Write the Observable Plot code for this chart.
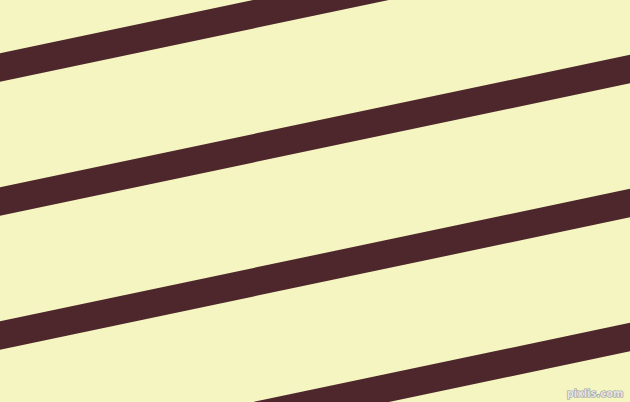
<!DOCTYPE html>
<html>
<head>
<meta charset="utf-8">
<script src="https://cdn.jsdelivr.net/npm/d3@7"></script>
<script src="https://cdn.jsdelivr.net/npm/@observablehq/plot@0.6"></script>
<style>
  html, body { margin: 0; padding: 0; background: #F5F5C1; }
  #chart svg { display: block; }
</style>
</head>
<body>
<div id="chart"></div>
<script>
// Stripe centre lines: y at the left edge (x=0) and right edge (x=630)
const stripeIds = ["s1", "s2", "s3", "s4"];
const leftY = [66.8, 200.8, 334.8, 468.8];
const rightY = [-65.5, 68.5, 202.5, 336.5];
const xLeft = 0;
const xRight = 630;
const watermark = ["pixlis.com"];

const stripes = stripeIds.map((id, i) => ({id, x1: xLeft, y1: leftY[i], x2: xRight, y2: rightY[i]}));

const plot = Plot.plot({
  width: 630,
  height: 402,
  margin: 0,
  x: {domain: [0, 630], range: [0, 630], axis: null},
  y: {domain: [0, 402], range: [0, 402], axis: null},
  style: {background: "#F5F5C1", overflow: "hidden"},
  marks: [
    Plot.link(stripes, {
      x1: "x1", y1: "y1", x2: "x2", y2: "y2",
      stroke: "#4D272B",
      strokeWidth: 27.9,
      strokeLinecap: "square",
      clip: true
    }),
    Plot.text(watermark, {
      text: d => d,
      frameAnchor: "bottom-right",
      dx: -7,
      dy: -6,
      fontSize: 10,
      fontWeight: "bold",
      fontFamily: "DejaVu Sans, sans-serif",
      fill: "#e4e4e4",
      stroke: "#9a9a9a",
      strokeWidth: 1.2,
      paintOrder: "stroke"
    })
  ]
});
document.getElementById("chart").appendChild(plot);
</script>
</body>
</html>
